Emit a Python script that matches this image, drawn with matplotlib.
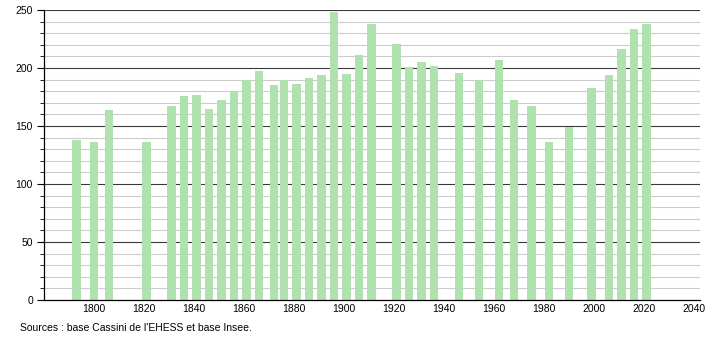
import numpy as np
import matplotlib
matplotlib.use('Agg')
from matplotlib import pyplot as plt

years = [1793, 1800, 1806, 1821, 1831, 1836, 1841, 1846, 1851, 1856, 1861,
         1866, 1872, 1876, 1881, 1886, 1891, 1896, 1901, 1906, 1911, 1921,
         1926, 1931, 1936, 1946, 1954, 1962, 1968, 1975, 1982, 1990, 1999,
         2006, 2011, 2016, 2021]
population = [138, 136, 164, 136, 167, 176, 177, 165, 172, 179, 190,
              197, 185, 190, 186, 191, 194, 248, 195, 211, 238, 221,
              201, 205, 202, 196, 190, 207, 172, 167, 136, 149, 183,
              194, 216, 234, 238]
x_ticks = [1800, 1820, 1840, 1860, 1880, 1900, 1920, 1940, 1960, 1980, 2000, 2020, 2040]
source = "Sources : base Cassini de l'EHESS et base Insee."

plt.rcParams['font.family'] = ['Liberation Sans', 'DejaVu Sans']

fig = plt.figure(figsize=(7.1, 3.4), dpi=100)
ax = fig.add_axes([44/710, 40/340, 656/710, 290/340])

# grille : fine tous les 10, foncée tous les 50
for v in range(10, 251, 10):
    if v % 50 == 0:
        ax.axhline(v, color='#3a3a3a', lw=0.8, zorder=1)
    else:
        ax.axhline(v, color='#cccccc', lw=0.8, zorder=1)

ax.bar(years, population, width=3.3, color='#b0e2b0', zorder=2)

ax.set_xlim(1780, 2042.4)
ax.set_ylim(0, 250)
ax.set_xticks(x_ticks)
ax.set_yticks(range(0, 251, 50))
ax.set_yticks(range(0, 251, 10), minor=True)
ax.tick_params(axis='x', length=0, labelsize=7.5, pad=3)
ax.tick_params(axis='y', which='major', length=5, labelsize=7.5, pad=3)
ax.tick_params(axis='y', which='minor', length=3)

for s in ['top', 'right']:
    ax.spines[s].set_visible(False)
ax.spines['left'].set_linewidth(0.9)
ax.spines['bottom'].set_linewidth(0.9)

fig.text(20/710, 1 - 328/340, source, fontsize=7.5, va='center', ha='left')

fig.savefig('out.png', dpi=100)
